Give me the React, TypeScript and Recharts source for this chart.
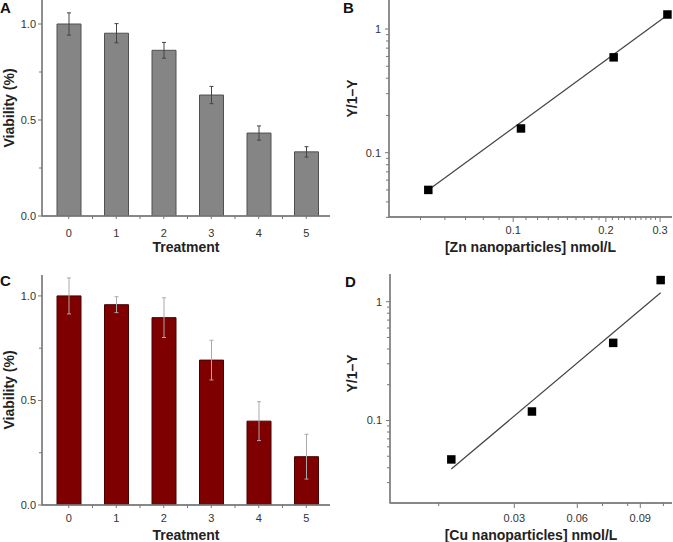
import React from "react";
import {
  Bar,
  ComposedChart,
  ErrorBar,
  Label,
  Line,
  Scatter,
  XAxis,
  YAxis,
  ZAxis,
} from "recharts";

// panels A / C: viability per treatment
const treatments = ["0", "1", "2", "3", "4", "5"];
const znViability = [1.0, 0.952, 0.863, 0.63, 0.432, 0.334];
const znError = [0.058, 0.05, 0.041, 0.045, 0.037, 0.027];
const cuViability = [1.0, 0.958, 0.896, 0.693, 0.401, 0.231];
const cuError = [0.086, 0.038, 0.095, 0.095, 0.093, 0.107];
const viabilityTicks = [0, 0.25, 0.5, 0.75, 1];
const viabilityLabels = [0, 0.5, 1];

// panel B: Zn hill plot
const znConc = [0.053, 0.106, 0.212, 0.317];
const znRatio = [0.05, 0.157, 0.59, 1.31];
const znFitConc = [0.053, 0.323];
const znFitRatio = [0.05, 1.34];
const znXTicks = [
  0.05, 0.06, 0.07, 0.08, 0.09, 0.1, 0.11, 0.12, 0.13, 0.14, 0.15, 0.16, 0.17,
  0.18, 0.19, 0.2, 0.21, 0.22, 0.23, 0.24, 0.25, 0.26, 0.27, 0.28, 0.29, 0.3,
];
const znXLabels = [0.1, 0.2, 0.3];

// panel D: Cu hill plot
const cuConc = [0.0, 0.0384, 0.0771, 0.0997];
const cuRatio = [0.047, 0.119, 0.45, 1.52];
const cuFitConc = [0.0, 0.0997];
const cuFitRatio = [0.039, 1.19];
const cuXTicks = [-0.006, 0.03, 0.06, 0.072, 0.084, 0.09, 0.101];
const cuXLabels = [0.03, 0.06, 0.09];

const logYTicks = [
  0.03, 0.04, 0.05, 0.06, 0.07, 0.08, 0.09, 0.1, 0.2, 0.3, 0.4, 0.5, 0.6, 0.7,
  0.8, 0.9, 1,
];
const logYLabels = [0.1, 1];

const FONT = "'Liberation Sans', Arial, Helvetica, sans-serif";
const AXIS = "#777";
const TICK_TEXT = "#333";

// panel boxes on the page; the plot frame of each is derived from these
type Panel = {
  left: number;
  top: number;
  width: number;
  height: number;
  marginTop: number;
  marginRight: number;
  yAxisWidth: number;
  xAxisHeight: number;
};
const panelA: Panel = { left: 0, top: 0, width: 340, height: 260, marginTop: 0, marginRight: 10, yAxisWidth: 42, xAxisHeight: 44 };
const panelB: Panel = { left: 340, top: 0, width: 333, height: 260, marginTop: 0, marginRight: 1, yAxisWidth: 49, xAxisHeight: 43 };
const panelC: Panel = { left: 0, top: 270, width: 340, height: 272, marginTop: 5, marginRight: 10, yAxisWidth: 42, xAxisHeight: 37 };
const panelD: Panel = { left: 340, top: 270, width: 333, height: 272, marginTop: 4, marginRight: 1, yAxisWidth: 50, xAxisHeight: 39 };

const isIn = (list: number[], v: number) =>
  list.some((l) => Math.abs(l - v) < 1e-9);

function yTick(labels: number[], fmt: (v: number) => string, gap: number) {
  return (props: any) => {
    const { x, y, payload } = props;
    const major = isIn(labels, payload.value);
    return (
      <g>
        <line x1={x} x2={x - (major ? 4 : 3)} y1={y} y2={y} stroke={AXIS} />
        {major && (
          <text
            x={x - gap}
            y={y}
            dy="0.35em"
            textAnchor="end"
            fontSize={11}
            fontFamily={FONT}
            fill={TICK_TEXT}
          >
            {fmt(payload.value)}
          </text>
        )}
      </g>
    );
  };
}

function numXTick(labels: number[], fmt: (v: number) => string, dy: number) {
  return (props: any) => {
    const { x, y, payload } = props;
    const major = isIn(labels, payload.value);
    return (
      <g>
        <line x1={x} x2={x} y1={y} y2={y + (major ? 5 : 3)} stroke={AXIS} />
        {major && (
          <text
            x={x}
            y={y + dy}
            dy="0.35em"
            textAnchor="middle"
            fontSize={11}
            fontFamily={FONT}
            fill={TICK_TEXT}
          >
            {fmt(payload.value)}
          </text>
        )}
      </g>
    );
  };
}

// category ticks: one under each bar and one between neighbours
function catXTick(half: number, dy: number) {
  return (props: any) => {
    const { x, y, payload } = props;
    const last = payload.value === treatments[treatments.length - 1];
    return (
      <g>
        <line x1={x} x2={x} y1={y} y2={y + 3} stroke={AXIS} />
        {!last && <line x1={x + half} x2={x + half} y1={y} y2={y + 3} stroke={AXIS} />}
        <text
          x={x}
          y={y + dy}
          dy="0.35em"
          textAnchor="middle"
          fontSize={11}
          fontFamily={FONT}
          fill={TICK_TEXT}
        >
          {payload.value}
        </text>
      </g>
    );
  };
}

const titleStyle = { fontFamily: FONT, fontWeight: 700, fontSize: 14, fill: "#222" };
const yTitleStyle = { ...titleStyle, textAnchor: "middle" as const };

function ViabilityChart({
  panel,
  values,
  errors,
  yMax,
  fill,
  stroke,
  errColor,
  tickDy,
  titleOffset,
}: {
  panel: Panel;
  values: number[];
  errors: number[];
  yMax: number;
  fill: string;
  stroke: string;
  errColor: string;
  tickDy: number;
  titleOffset: number;
}) {
  const data = treatments.map((t, i) => ({ t, v: values[i], err: errors[i] }));
  return (
    <ComposedChart
      width={panel.width}
      height={panel.height}
      data={data}
      margin={{ top: panel.marginTop, right: panel.marginRight, bottom: 0, left: 0 }}
    >
      <XAxis
        dataKey="t"
        padding={{ left: 3, right: 0 }}
        height={panel.xAxisHeight}
        stroke={AXIS}
        tickLine={false}
        tickSize={0}
        tickMargin={0}
        tick={catXTick(23.75, tickDy)}
        interval={0}
      >
        <Label value="Treatment" position="insideBottom" offset={titleOffset} style={titleStyle} />
      </XAxis>
      <YAxis
        type="number"
        domain={[0, yMax]}
        allowDataOverflow
        ticks={viabilityTicks}
        width={panel.yAxisWidth}
        stroke={AXIS}
        tickLine={false}
        tickSize={0}
        tickMargin={0}
        tick={yTick(viabilityLabels, (v) => v.toFixed(1), 6)}
        interval={0}
      >
        <Label
          value="Viability (%)"
          angle={-90}
          position="insideLeft"
          offset={9}
          style={yTitleStyle}
        />
      </YAxis>
      <Bar dataKey="v" fill={fill} stroke={stroke} strokeWidth={1} barSize={24} isAnimationActive={false}>
        <ErrorBar dataKey="err" width={2} stroke={errColor} strokeWidth={1} direction="y" />
      </Bar>
    </ComposedChart>
  );
}

function HillChart({
  panel,
  conc,
  ratio,
  fitConc,
  fitRatio,
  xScale,
  xDomain,
  yDomain,
  xTicks,
  xLabels,
  xFmt,
  xTickDy,
  xTitle,
  titleOffset,
  yTitleDy,
}: {
  panel: Panel;
  conc: number[];
  ratio: number[];
  fitConc: number[];
  fitRatio: number[];
  xScale: "log" | "linear";
  xDomain: [number, number];
  yDomain: [number, number];
  xTicks: number[];
  xLabels: number[];
  xFmt: (v: number) => string;
  xTickDy: number;
  xTitle: string;
  titleOffset: number;
  yTitleDy: number;
}) {
  const points = conc.map((x, i) => ({ x, y: ratio[i] }));
  const fit = fitConc.map((x, i) => ({ x, y: fitRatio[i] }));
  return (
    <ComposedChart
      width={panel.width}
      height={panel.height}
      margin={{ top: panel.marginTop, right: panel.marginRight, bottom: 0, left: 0 }}
    >
      <XAxis
        type="number"
        dataKey="x"
        scale={xScale}
        domain={xDomain}
        allowDataOverflow
        ticks={xTicks}
        interval={0}
        height={panel.xAxisHeight}
        stroke={AXIS}
        tickLine={false}
        tickSize={0}
        tickMargin={0}
        tick={numXTick(xLabels, xFmt, xTickDy)}
      >
        <Label value={xTitle} position="insideBottom" offset={titleOffset} style={titleStyle} />
      </XAxis>
      <YAxis
        type="number"
        dataKey="y"
        scale="log"
        domain={yDomain}
        allowDataOverflow
        ticks={logYTicks}
        interval={0}
        width={panel.yAxisWidth}
        stroke={AXIS}
        tickLine={false}
        tickSize={0}
        tickMargin={0}
        tick={yTick(logYLabels, (v) => String(v), 8)}
      >
        <Label
          value="Y/1–Y"
          angle={-90}
          position="insideLeft"
          offset={12}
          dy={yTitleDy}
          style={yTitleStyle}
        />
      </YAxis>
      <ZAxis type="number" range={[72, 72]} />
      <Line
        data={fit}
        dataKey="y"
        type="linear"
        stroke="#444"
        strokeWidth={1.2}
        dot={false}
        activeDot={false}
        isAnimationActive={false}
      />
      <Scatter data={points} shape="square" fill="#000" isAnimationActive={false} />
    </ComposedChart>
  );
}

// left + bottom frame of a panel's plot area, in page coordinates
function Frame({ panel }: { panel: Panel }) {
  const x0 = panel.left + panel.yAxisWidth;
  const x1 = panel.left + panel.width - panel.marginRight;
  const y0 = panel.top + panel.marginTop;
  const y1 = panel.top + panel.height - panel.xAxisHeight;
  return (
    <g stroke={AXIS} strokeWidth={1.3} fill="none">
      <path d={`M${x0},${y0} L${x0},${y1} L${x1},${y1}`} />
    </g>
  );
}

const place = (p: Panel) => ({ position: "absolute" as const, left: p.left, top: p.top });

export default function App() {
  return (
    <div
      style={{
        position: "absolute",
        left: 0,
        top: 0,
        width: 673,
        height: 542,
        background: "#fff",
        overflow: "hidden",
      }}
    >
      <div style={place(panelA)}>
        <ViabilityChart
          panel={panelA}
          values={znViability}
          errors={znError}
          yMax={1.125}
          fill="#858585"
          stroke="#505050"
          errColor="#444"
          tickDy={17}
          titleOffset={8}
        />
      </div>
      <div style={place(panelB)}>
        <HillChart
          panel={panelB}
          conc={znConc}
          ratio={znRatio}
          fitConc={znFitConc}
          fitRatio={znFitRatio}
          xScale="log"
          xDomain={[0.0395, 0.328]}
          yDomain={[0.0302, 1.716]}
          xTicks={znXTicks}
          xLabels={znXLabels}
          xFmt={(v) => String(v)}
          xTickDy={13}
          xTitle="[Zn nanoparticles] nmol/L"
          titleOffset={8}
          yTitleDy={-10}
        />
      </div>
      <div style={place(panelC)}>
        <ViabilityChart
          panel={panelC}
          values={cuViability}
          errors={cuError}
          yMax={1.1}
          fill="#7f0000"
          stroke="#4a0000"
          errColor="#aaa"
          tickDy={13}
          titleOffset={2}
        />
      </div>
      <div style={place(panelD)}>
        <HillChart
          panel={panelD}
          conc={cuConc}
          ratio={cuRatio}
          fitConc={cuFitConc}
          fitRatio={cuFitRatio}
          xScale="linear"
          xDomain={[-0.0292, 0.1051]}
          yDomain={[0.0202, 1.71]}
          xTicks={cuXTicks}
          xLabels={cuXLabels}
          xFmt={(v) => v.toFixed(2)}
          xTickDy={15}
          xTitle="[Cu nanoparticles] nmol/L"
          titleOffset={2}
          yTitleDy={-15}
        />
      </div>
      <svg
        width={673}
        height={542}
        style={{ position: "absolute", left: 0, top: 0, pointerEvents: "none" }}
      >
        <Frame panel={panelA} />
        <Frame panel={panelB} />
        <Frame panel={panelC} />
        <Frame panel={panelD} />
        <g fontFamily={FONT} fontWeight={700} fontSize={15} fill="#111">
          <text x={0} y={13}>A</text>
          <text x={343} y={13}>B</text>
          <text x={0} y={286}>C</text>
          <text x={345} y={287}>D</text>
        </g>
      </svg>
    </div>
  );
}
